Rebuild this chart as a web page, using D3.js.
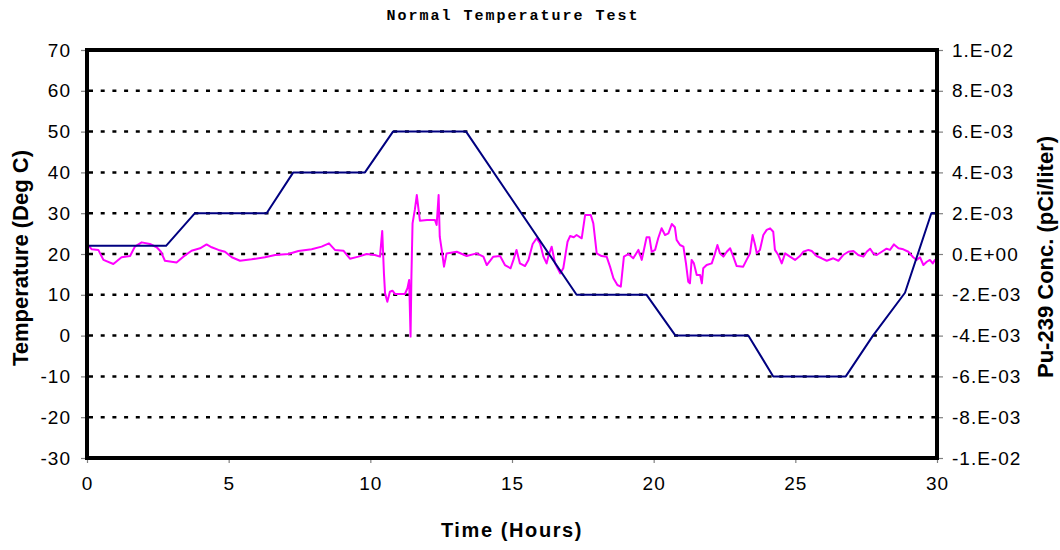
<!DOCTYPE html>
<html>
<head>
<meta charset="utf-8">
<script src="https://cdn.jsdelivr.net/npm/d3@7"></script>
<style>
  body { margin: 0; background: #fff; }
  svg { display: block; font-family: "Liberation Sans", Arial, sans-serif; }
</style>
</head>
<body>
<div id="chart"></div>
<script>
// temperature profile (Deg C) vs time (hours)
const tempHours = [0, 2.79, 3.81, 6.34, 7.28, 9.81, 10.8, 13.38, 17.28, 19.75, 20.77, 23.34, 24.22, 26.78, 27.74, 28.87, 29.8, 30];
const tempValues = [22, 22, 30, 30, 40, 40, 50, 50, 10, 10, 0, 0, -10, -10, 0, 10.5, 30, 30];

// Pu-239 concentration, in units of 1E-03 pCi/liter
const concHours = [0, 0.17, 0.4, 0.58, 0.93, 1.22, 1.52, 1.69, 1.93, 2.22, 2.46, 2.61, 2.75, 3.16, 3.4, 3.69, 3.99, 4.22, 4.4, 4.64,
  4.87, 5.11, 5.4, 5.81, 6.28, 6.64, 7.11, 7.46, 7.93, 8.28, 8.54, 8.75, 9.05, 9.28, 9.58, 9.87, 10.16, 10.34, 10.42, 10.48,
  10.52, 10.6, 10.69, 10.78, 10.87, 11.22, 11.31, 11.37, 11.42, 11.45, 11.49, 11.57, 11.64, 11.7, 11.75, 12.0, 12.28, 12.34, 12.41, 12.45,
  12.52, 12.6, 12.69, 13.05, 13.4, 13.75, 13.99, 14.11, 14.34, 14.58, 14.75, 14.95, 15.05, 15.16, 15.28, 15.46, 15.58, 15.73, 15.87, 15.99,
  16.11, 16.22, 16.28, 16.4, 16.52, 16.7, 16.81, 16.96, 17.05, 17.18, 17.28, 17.46, 17.58, 17.78, 17.87, 17.99, 18.16, 18.34, 18.46, 18.58,
  18.72, 18.84, 18.95, 19.11, 19.28, 19.46, 19.58, 19.75, 19.85, 19.93, 20.05, 20.16, 20.28, 20.4, 20.52, 20.64, 20.75, 20.81, 20.93, 21.05,
  21.14, 21.22, 21.28, 21.34, 21.42, 21.52, 21.64, 21.7, 21.75, 21.87, 22.05, 22.16, 22.25, 22.34, 22.46, 22.58, 22.7, 22.81, 22.93, 23.16,
  23.28, 23.4, 23.49, 23.58, 23.64, 23.75, 23.87, 23.99, 24.11, 24.22, 24.28, 24.4, 24.52, 24.64, 24.81, 24.99, 25.16, 25.28, 25.46, 25.58,
  25.75, 25.93, 26.11, 26.34, 26.52, 26.69, 26.87, 27.05, 27.22, 27.4, 27.52, 27.64, 27.75, 27.87, 28.05, 28.22, 28.34, 28.48, 28.64, 28.81,
  28.99, 29.16, 29.28, 29.4, 29.52, 29.64, 29.75, 29.85, 29.93, 30.0];
const concValues = [0.49, 0.23, 0.2, -0.29, -0.49, -0.16, -0.1, 0.36, 0.57, 0.49, 0.33, 0.11, -0.33, -0.42, -0.13, 0.16, 0.28, 0.47, 0.33, 0.2,
  0.11, -0.16, -0.33, -0.26, -0.16, -0.05, 0, 0.15, 0.23, 0.36, 0.52, 0.2, 0.16, -0.23, -0.13, 0, -0.05, -0.13, 1.13, -0.95,
  -1.93, -2.34, -1.85, -1.8, -1.96, -1.96, -1.68, -1.27, -4.05, -1.1, 1.5, 2.16, 2.89, 2.2, 1.63, 1.67, 1.67, 1.42, 2.89, 0.85,
  0.2, -0.62, 0.03, 0.11, -0.1, 0.03, -0.13, -0.54, -0.13, -0.1, -0.54, -0.7, -0.29, 0.2, -0.46, -0.59, -0.29, 0.49, 0.77, 0.52,
  -0.13, -0.46, -0.13, 0.36, -0.46, -0.95, -0.7, 0.6, 0.88, 0.82, 0.93, 0.77, 1.91, 1.91, 1.5, 0.03, -0.1, -0.13, -0.62, -1.19,
  -1.52, -1.6, -0.13, 0, -0.21, 0.2, -0.29, 0.82, 0.82, 0.11, 0.2, 0.77, 1.26, 0.93, 1.01, 1.47, 1.31, 0.69, 0.44, 0.36,
  -0.46, -1.36, -1.44, -0.29, -0.46, -1.03, -1.03, -1.44, -0.7, -0.54, -0.46, 0, 0.44, 0.03, -0.13, 0.11, 0.28, -0.13, -0.59, -0.62,
  -0.29, 0.03, 0.93, 0.44, 0.03, 0.2, 0.93, 1.18, 1.26, 1.09, 0.2, -0.05, -0.46, 0.03, -0.13, -0.29, -0.1, 0.11, 0.2, 0.15,
  -0.1, -0.21, -0.33, -0.21, -0.33, -0.05, 0.11, 0.15, -0.05, -0.13, 0.11, 0.26, 0.03, -0.05, 0.11, 0.26, 0.2, 0.47, 0.28, 0.23,
  0.11, -0.16, -0.29, -0.16, -0.54, -0.38, -0.29, -0.46, -0.29, -0.21];

const tempTicks = [-30, -20, -10, 0, 10, 20, 30, 40, 50, 60, 70];
const gridTicks = [-20, -10, 0, 10, 20, 30, 40, 50, 60];
const concTicks = [-10, -8, -6, -4, -2, 0, 2, 4, 6, 8, 10];
const concTickLabels = ["-1.E-02", "-8.E-03", "-6.E-03", "-4.E-03", "-2.E-03", "0.E+00", "2.E-03", "4.E-03", "6.E-03", "8.E-03", "1.E-02"];
const hourTicks = [0, 5, 10, 15, 20, 25, 30];

const width = 1060;
const height = 550;
const plot = { left: 87, right: 937, top: 50, bottom: 458 };

const svg = d3.select("#chart").append("svg")
  .attr("width", width)
  .attr("height", height);

const x = d3.scaleLinear().domain([0, 30]).range([plot.left, plot.right]);
const yTemp = d3.scaleLinear().domain([-30, 70]).range([plot.bottom, plot.top]);
const yConc = d3.scaleLinear().domain([-10, 10]).range([plot.bottom, plot.top]);

// dotted gridlines
svg.append("g")
  .selectAll("line")
  .data(gridTicks)
  .enter()
  .append("line")
  .attr("x1", plot.left + 2)
  .attr("x2", plot.right)
  .attr("y1", d => yTemp(d))
  .attr("y2", d => yTemp(d))
  .attr("stroke", "#000")
  .attr("stroke-width", 2.5)
  .attr("stroke-dasharray", "4,7.7");

// axes
const axisLeft = svg.append("g")
  .attr("transform", `translate(${plot.left},0)`)
  .call(d3.axisLeft(yTemp).tickValues(tempTicks).tickSize(6).tickPadding(10)
    .tickFormat(d => String(d)));

const axisRight = svg.append("g")
  .attr("transform", `translate(${plot.right},0)`)
  .call(d3.axisRight(yConc).tickValues(concTicks).tickSize(6).tickPadding(9)
    .tickFormat((d, i) => concTickLabels[i]));

const axisBottom = svg.append("g")
  .attr("transform", `translate(0,${plot.bottom})`)
  .call(d3.axisBottom(x).tickValues(hourTicks).tickSize(5).tickPadding(14)
    .tickFormat(d => String(d)));

[axisLeft, axisRight, axisBottom].forEach(g => {
  g.select(".domain").remove();
  g.selectAll(".tick line").attr("stroke", "#808080").attr("stroke-width", 1.2);
  g.selectAll(".tick text")
    .attr("fill", "#000")
    .style("font-family", "'Liberation Sans', Arial, sans-serif")
    .style("font-size", "19px")
    .style("letter-spacing", "1px");
});

// series
svg.append("clipPath").attr("id", "plotClip")
  .append("rect")
  .attr("x", plot.left)
  .attr("y", plot.top)
  .attr("width", plot.right - plot.left)
  .attr("height", plot.bottom - plot.top);

const tempData = tempHours.map((h, i) => [h, tempValues[i]]);
const concData = concHours.map((h, i) => [h, concValues[i]]);

svg.append("path")
  .datum(concData)
  .attr("clip-path", "url(#plotClip)")
  .attr("fill", "none")
  .attr("stroke", "#ff00ff")
  .attr("stroke-width", 2)
  .attr("stroke-linejoin", "round")
  .attr("d", d3.line()
    .x(d => x(d[0]))
    .y(d => yConc(d[1])));

svg.append("path")
  .datum(tempData)
  .attr("clip-path", "url(#plotClip)")
  .attr("fill", "none")
  .attr("stroke", "#000080")
  .attr("stroke-width", 2)
  .attr("stroke-linejoin", "round")
  .attr("d", d3.line()
    .x(d => x(d[0]))
    .y(d => yTemp(d[1])));

// plot border
svg.append("rect")
  .attr("x", plot.left)
  .attr("y", plot.top)
  .attr("width", plot.right - plot.left)
  .attr("height", plot.bottom - plot.top)
  .attr("fill", "none")
  .attr("stroke", "#000")
  .attr("stroke-width", 4);

// titles
svg.append("text")
  .attr("x", 513)
  .attr("y", 20)
  .attr("text-anchor", "middle")
  .style("font-family", "'Liberation Mono', 'Courier New', monospace")
  .style("font-weight", "bold")
  .style("font-size", "15px")
  .style("letter-spacing", "2px")
  .text("Normal Temperature Test");

svg.append("text")
  .attr("x", 512)
  .attr("y", 537)
  .attr("text-anchor", "middle")
  .style("font-weight", "bold")
  .style("font-size", "20px")
  .style("letter-spacing", "1.6px")
  .text("Time (Hours)");

svg.append("text")
  .attr("transform", "translate(28,258) rotate(-90)")
  .attr("text-anchor", "middle")
  .style("font-weight", "bold")
  .style("font-size", "22px")
  .text("Temperature (Deg C)");

svg.append("text")
  .attr("transform", "translate(1053,257) rotate(-90)")
  .attr("text-anchor", "middle")
  .style("font-weight", "bold")
  .style("font-size", "22px")
  .text("Pu-239 Conc. (pCi/liter)");
</script>
</body>
</html>
